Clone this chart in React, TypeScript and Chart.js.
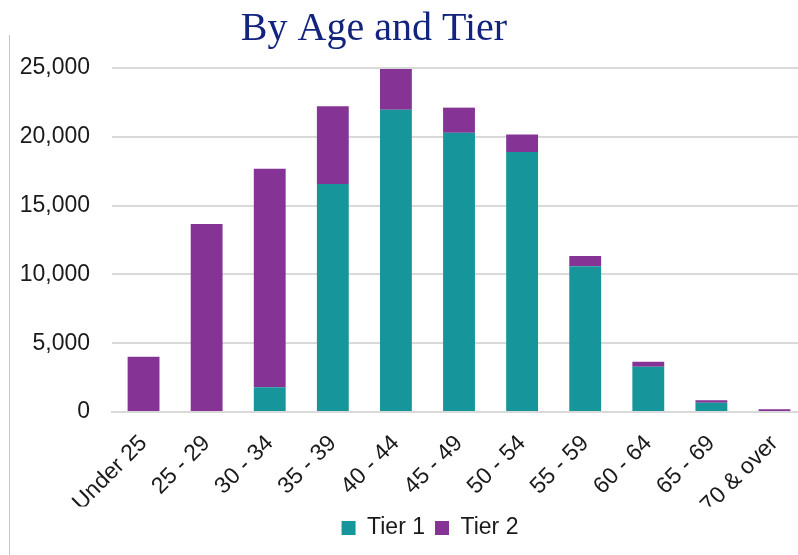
import React, { useEffect, useRef } from "react";
import { Chart, registerables } from "chart.js";

Chart.register(...registerables);

const categories = ["Under 25", "25 - 29", "30 - 34", "35 - 39", "40 - 44", "45 - 49", "50 - 54", "55 - 59", "60 - 64", "65 - 69", "70 & over"];
const tier1 = [0, 0, 1790, 16570, 21960, 20290, 18890, 10600, 3290, 680, 0];
const tier2 = [4020, 13670, 15890, 5650, 2970, 1830, 1280, 730, 360, 170, 200];
const yTicks = [0, 5000, 10000, 15000, 20000, 25000];

const TITLE_CENTER = 374;
const LEGEND_CENTER = 430;

const shiftPlugin = {
  id: "shiftBoxes",
  afterLayout(chart: any) {
    const t = chart.titleBlock;
    if (t) {
      const d = TITLE_CENTER - (t.left + t.right) / 2;
      t.left += d;
      t.right += d;
    }
    const l = chart.legend;
    if (l) {
      const d = LEGEND_CENTER - (l.left + l.right) / 2;
      l.left += d;
      l.right += d;
      if (l.legendHitBoxes) l.legendHitBoxes.forEach((b: any) => (b.left += d));
    }
  },
  beforeDraw(chart: any) {
    const ctx = chart.ctx;
    ctx.save();
    ctx.strokeStyle = "#c8c8c8";
    ctx.lineWidth = 1;
    ctx.beginPath();
    ctx.moveTo(9.5, 35);
    ctx.lineTo(9.5, chart.height);
    ctx.stroke();
    ctx.restore();
  },
};

export default function App() {
  const ref = useRef<HTMLCanvasElement>(null);
  useEffect(() => {
    if (!ref.current) return;
    const font = "'Liberation Sans', Arial, sans-serif";
    const chart = new Chart(ref.current, {
      type: "bar",
      data: {
        labels: categories,
        datasets: [
          { label: "Tier 1", data: tier1, backgroundColor: "#16969A", borderWidth: 0 },
          { label: "Tier 2", data: tier2, backgroundColor: "#853496", borderWidth: 0 },
        ],
      },
      plugins: [shiftPlugin],
      options: {
        animation: false,
        responsive: false,
        maintainAspectRatio: false,
        layout: { padding: { left: 0, right: 0, top: 0, bottom: 5.5 } },
        datasets: { bar: { categoryPercentage: 1, barPercentage: 0.505 } },
        plugins: {
          title: {
            display: true,
            text: "By Age and Tier",
            color: "#12247E",
            font: { family: "'Liberation Serif', 'Times New Roman', serif", size: 40, weight: "normal", lineHeight: 1.2 },
            padding: { top: 5, bottom: 15 },
          },
          legend: {
            position: "bottom",
            labels: {
              color: "#1a1a1a",
              font: { family: font, size: 23 },
              boxWidth: 14,
              boxHeight: 14,
              padding: 10,
            },
          },
          tooltip: { enabled: false },
        },
        scales: {
          x: {
            stacked: true,
            afterFit(scale: any) {
              scale.height = 94.5;
            },
            grid: { display: false, drawTicks: false },
            border: { display: true, color: "#d9d9d9", width: 2 },
            ticks: {
              color: "#1a1a1a",
              font: { family: font, size: 23 },
              minRotation: 45,
              maxRotation: 45,
              padding: 18,
            },
          },
          y: {
            stacked: true,
            min: 0,
            max: 25000,
            afterFit(scale: any) {
              scale.width = 112;
            },
            afterBuildTicks(scale: any) {
              scale.ticks = yTicks.map((v) => ({ value: v }));
            },
            grid: { color: "#d9d9d9", lineWidth: 2, drawTicks: false },
            border: { display: false },
            ticks: {
              color: "#1a1a1a",
              font: { family: font, size: 23 },
              padding: 22,
              callback: (v: any) => Number(v).toLocaleString("en-US"),
            },
          },
        },
      },
    });
    return () => chart.destroy();
  }, []);
  return (
    <div style={{ position: "fixed", left: 0, top: 0, width: 798, height: 555, overflow: "hidden", background: "#fff" }}>
      <canvas ref={ref} width={812} height={555} style={{ display: "block", width: 812, height: 555 }} />
    </div>
  );
}
